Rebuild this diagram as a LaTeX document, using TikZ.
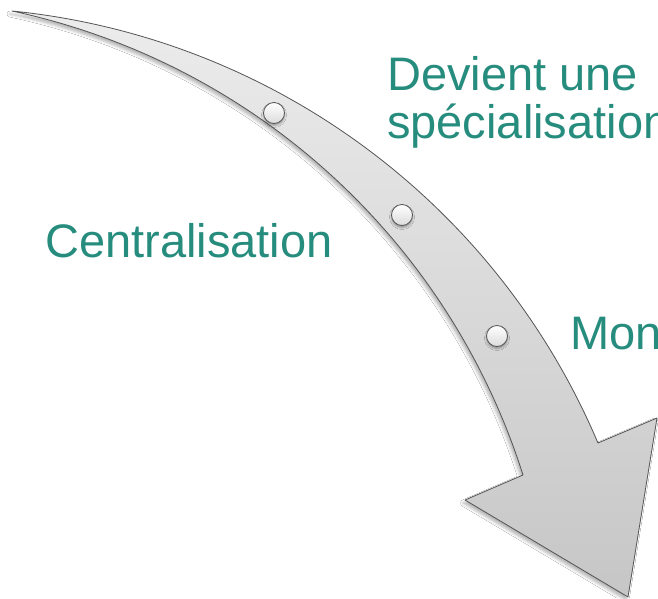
\documentclass[tikz,border=0pt]{standalone}
\usepackage{fontspec}
\setmainfont{Liberation Sans}
\usetikzlibrary{shadows.blur}
\definecolor{labelteal}{RGB}{38,140,125}
\definecolor{edgegray}{RGB}{85,85,85}
\definecolor{shafttop}{RGB}{236,236,236}
\definecolor{shaftbottom}{RGB}{198,198,198}

\begin{document}
\begin{tikzpicture}[x=1pt,y=-1pt,
  label text/.style={text=labelteal, inner sep=0pt, anchor=base west,
    font=\fontsize{47}{48}\selectfont},
  dot/.style={circle, draw=edgegray, line width=0.8pt, minimum size=21pt,
    inner sep=0pt, top color=white, bottom color=black!14,
    blur shadow={shadow xshift=0pt, shadow yshift=-2pt,
      shadow blur radius=2pt, shadow opacity=35}},
  bigarrow/.style={draw=edgegray, line width=0.8pt, line join=round,
    top color=shafttop, bottom color=shaftbottom,
    blur shadow={shadow xshift=-2pt, shadow yshift=-3pt,
      shadow blur radius=3pt, shadow opacity=30}}]
\useasboundingbox (0,0) rectangle (658,598);
\fill[white] (0,0) rectangle (658,598);
\begin{scope}
\clip (0,0) rectangle (658,598);

% outline points of the curved arrow
\coordinate (tail)  at (12,11);
\coordinate (neckU) at (598,443);
\coordinate (barbR) at (657,418);
\coordinate (tip)   at (628,597);
\coordinate (barbL) at (465,500);
\coordinate (neckL) at (523,475);

% shaft: two circular arcs meeting at the pointed tail
\path[bigarrow] (tail) arc[start angle=-84.25, end angle=-22.95, radius=714]
  -- (barbR) -- (tip) -- (barbL) -- (neckL)
  arc[start angle=-17.59, end angle=-77.93, radius=686.7] -- cycle;

% beads along the shaft
\node[dot] (bead1) at (274,113) {};
\node[dot] (bead2) at (402,215) {};
\node[dot] (bead3) at (497,336) {};

% labels
\node[label text, align=left] (devient) at (387,138) {Devient une\\spécialisation};
\node[label text] (central) at (45,257) {Centralisation};
\node[label text] (mon) at (570,349) {Mon};
\end{scope}
\end{tikzpicture}
\end{document}
